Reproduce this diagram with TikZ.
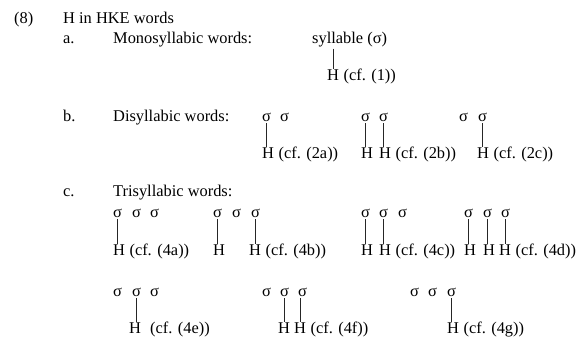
\documentclass[tikz,border=0pt]{standalone}
\usepackage{fontspec}
\setmainfont{Liberation Serif}
\begin{document}
\begin{tikzpicture}[x=1pt,y=-1pt,
  txt/.style={inner sep=0pt, anchor=base west, font=\fontsize{16.4}{20}\selectfont},
  link/.style={line width=0.7pt, black!85, shorten <=2pt, shorten >=0.5pt}]
\useasboundingbox[fill=white] (0,0) rectangle (583,338);
% header
\node[txt] (n8) at (14,23) {(8)};
\node[txt] (title) at (63,23) {H in HKE words};
% a.
\node[txt] (la) at (63,43) {a.};
\node[txt] (ta) at (113,43) {Monosyllabic words:};
\node[txt] (sa) at (312,43) {syllable (σ)};
\node[txt] (ha) at (327,80) {H};
\node[txt] (ca) at ([xshift=4.1pt]ha.base east) {(cf. (1))};
\draw[link] (ha.north |- sa.south) -- (ha.north);
% b.
\node[txt] (lb) at (63,121) {b.};
\node[txt] (tb) at (113,121) {Disyllabic words:};
\node[txt] (s2a1) at (262,121) {σ};
\node[txt] (s2a2) at (280,121) {σ};
\node[txt] (h2a1) at (262,158) {H};
\node[txt] (c2a) at ([xshift=4.1pt]h2a1.base east) {(cf. (2a))};
\node[txt] (s2b1) at (361,121) {σ};
\node[txt] (s2b2) at (379,121) {σ};
\node[txt] (h2b1) at (361,158) {H};
\node[txt] (h2b2) at (379,158) {H};
\node[txt] (c2b) at ([xshift=4.1pt]h2b2.base east) {(cf. (2b))};
\node[txt] (s2c1) at (459,121) {σ};
\node[txt] (s2c2) at (478,121) {σ};
\node[txt] (h2c2) at (477,158) {H};
\node[txt] (c2c) at ([xshift=4.1pt]h2c2.base east) {(cf. (2c))};
\draw[link] (s2a1.south) -- (s2a1.south |- h2a1.north);
\draw[link] (s2b1.south) -- (s2b1.south |- h2b1.north);
\draw[link] (s2b2.south) -- (s2b2.south |- h2b2.north);
\draw[link] (s2c2.south) -- (s2c2.south |- h2c2.north);
% c.
\node[txt] (lc) at (63,196) {c.};
\node[txt] (tc) at (113,196) {Trisyllabic words:};
% 4a
\node[txt] (s4a1) at (113,217) {σ};
\node[txt] (s4a2) at (132,217) {σ};
\node[txt] (s4a3) at (150,217) {σ};
\node[txt] (h4a1) at (113,255) {H};
\node[txt] (c4a) at ([xshift=4.1pt]h4a1.base east) {(cf. (4a))};
\draw[link] (s4a1.south) -- (s4a1.south |- h4a1.north);
% 4b
\node[txt] (s4b1) at (213,217) {σ};
\node[txt] (s4b2) at (232,217) {σ};
\node[txt] (s4b3) at (251,217) {σ};
\node[txt] (h4b1) at (213,255) {H};
\node[txt] (h4b3) at (249,255) {H};
\node[txt] (c4b) at ([xshift=4.1pt]h4b3.base east) {(cf. (4b))};
\draw[link] (s4b1.south) -- (s4b1.south |- h4b1.north);
\draw[link] (s4b3.south) -- (s4b3.south |- h4b3.north);
% 4c
\node[txt] (s4c1) at (361,217) {σ};
\node[txt] (s4c2) at (379,217) {σ};
\node[txt] (s4c3) at (398,217) {σ};
\node[txt] (h4c1) at (361,255) {H};
\node[txt] (h4c2) at (379,255) {H};
\node[txt] (c4c) at ([xshift=4.1pt]h4c2.base east) {(cf. (4c))};
\draw[link] (s4c1.south) -- (s4c1.south |- h4c1.north);
\draw[link] (s4c2.south) -- (s4c2.south |- h4c2.north);
% 4d
\node[txt] (s4d1) at (464,217) {σ};
\node[txt] (s4d2) at (483,217) {σ};
\node[txt] (s4d3) at (501,217) {σ};
\node[txt] (h4d1) at (464,255) {H};
\node[txt] (h4d2) at (483,255) {H};
\node[txt] (h4d3) at (499,255) {H};
\node[txt] (c4d) at ([xshift=4.1pt]h4d3.base east) {(cf. (4d))};
\draw[link] (s4d1.south) -- (s4d1.south |- h4d1.north);
\draw[link] (s4d2.south) -- (s4d2.south |- h4d2.north);
\draw[link] (s4d3.south) -- (s4d3.south |- h4d3.north);
% 4e
\node[txt] (s4e1) at (113,296) {σ};
\node[txt] (s4e2) at (132,296) {σ};
\node[txt] (s4e3) at (150,296) {σ};
\node[txt] (h4e2) at (129,333) {H};
\node[txt] (c4e) at (150,333) {(cf. (4e))};
\draw[link] (s4e2.south) -- (s4e2.south |- h4e2.north);
% 4f
\node[txt] (s4f1) at (262,296) {σ};
\node[txt] (s4f2) at (280,296) {σ};
\node[txt] (s4f3) at (298,296) {σ};
\node[txt] (h4f2) at (278,333) {H};
\node[txt] (h4f3) at (294,333) {H};
\node[txt] (c4f) at ([xshift=4.1pt]h4f3.base east) {(cf. (4f))};
\draw[link] (h4f2.north |- s4f2.south) -- (h4f2.north);
\draw[link] (h4f3.north |- s4f3.south) -- (h4f3.north);
% 4g
\node[txt] (s4g1) at (410,296) {σ};
\node[txt] (s4g2) at (428,296) {σ};
\node[txt] (s4g3) at (447,296) {σ};
\node[txt] (h4g3) at (447,333) {H};
\node[txt] (c4g) at ([xshift=4.1pt]h4g3.base east) {(cf. (4g))};
\draw[link] (s4g3.south) -- (s4g3.south |- h4g3.north);
\end{tikzpicture}
\end{document}
